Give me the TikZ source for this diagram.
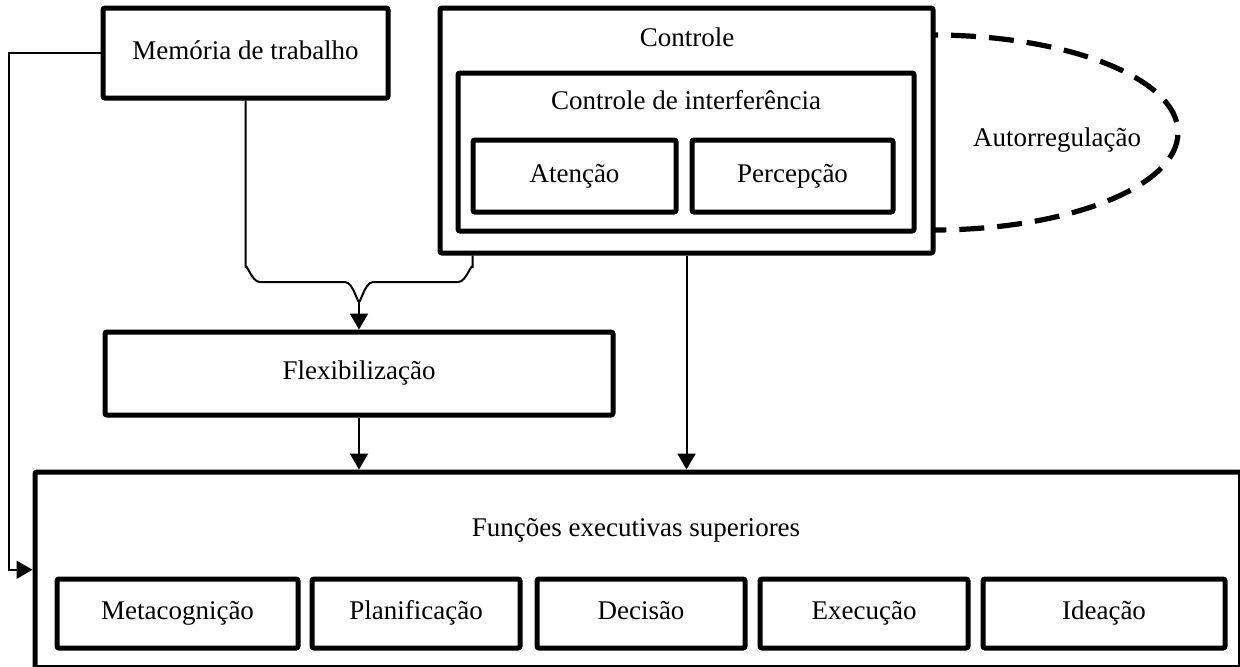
\documentclass[tikz,border=0pt]{standalone}
\usepackage{fontspec}
\setmainfont{Liberation Serif}
\usetikzlibrary{arrows.meta,calc}

% box given by its corner coordinates: name, x1, y1, x2, y2, text
\newcommand\cornerbox[6]{%
  \node[box, minimum width={0.5pt*(#4-#2)}, minimum height={0.5pt*(#5-#3)}]
    (#1) at ({(#2+#4)/2},{(#3+#5)/2}) {#6};}

\begin{document}
\begin{tikzpicture}[x=0.5pt,y=-0.5pt,
  every node/.style={font=\fontsize{13.5}{16}\selectfont, text height=0.75em, text depth=0.15em},
  box/.style={draw, line width=2.5pt, rounded corners=1pt, fill=white, inner sep=0pt},
  link/.style={line width=1pt},
  conn/.style={link, -{Triangle[width=9pt,length=8pt]}},
  loopline/.style={line width=2.6pt, dash pattern=on 12.5pt off 6.5pt, dash phase=-9pt}
]
\useasboundingbox (0,0) rectangle (1240,666);
\clip (0,0) rectangle (1240,666);

% self-regulation loop behind the control block
\draw[loopline] (933,35) arc[start angle=-90, end angle=90, x radius=245, y radius=97.5];
\node at (1057,140) {Autorregulação};

% upper blocks
\cornerbox{mem}{103}{8}{388}{98}{Memória de trabalho}
\cornerbox{ctrl}{440}{8}{933}{253}{}
\node at (687,40) {Controle};
\cornerbox{interf}{458}{73}{914}{231}{}
\node at (686,103) {Controle de interferência};
\cornerbox{aten}{473}{140}{676}{212}{Atenção}
\cornerbox{perc}{692}{140}{893}{212}{Percepção}

% flexibility
\cornerbox{flex}{105}{332}{613}{415}{Flexibilização}

% higher executive functions
\cornerbox{fe}{35}{472}{1240.5}{667.5}{}
\node at (636,530) {Funções executivas superiores};
\cornerbox{meta}{57}{579}{298}{648}{Metacognição}
\cornerbox{plan}{312}{579}{520}{648}{Planificação}
\cornerbox{dec}{537}{579}{745}{648}{Decisão}
\cornerbox{exec}{760}{579}{968}{648}{Execução}
\cornerbox{idea}{983}{579}{1225}{648}{Ideação}

% connectors
\coordinate (joint) at (359,300);
\coordinate (cb) at ($(ctrl.south west)+(35,0)$);
\draw[link] (mem.south) -- (mem.south |- 0,268)
  to[out=90,in=180] ++(14,14) -- (345,282) to[out=0,in=-90] (joint);
\draw[link] (cb) -- (cb |- 0,268)
  to[out=90,in=0] ++(-14,14) -- (373,282) to[out=180,in=-90] (joint);
\draw[conn] (joint) -- (flex.north);
\draw[conn] (flex.south) -- (flex.south |- fe.north);
\draw[conn] (ctrl.south) -- (ctrl.south |- fe.north);
\draw[conn] (mem.west) -| ($(fe.west)+(-24,0)$) -- (fe.west);
\end{tikzpicture}
\end{document}
